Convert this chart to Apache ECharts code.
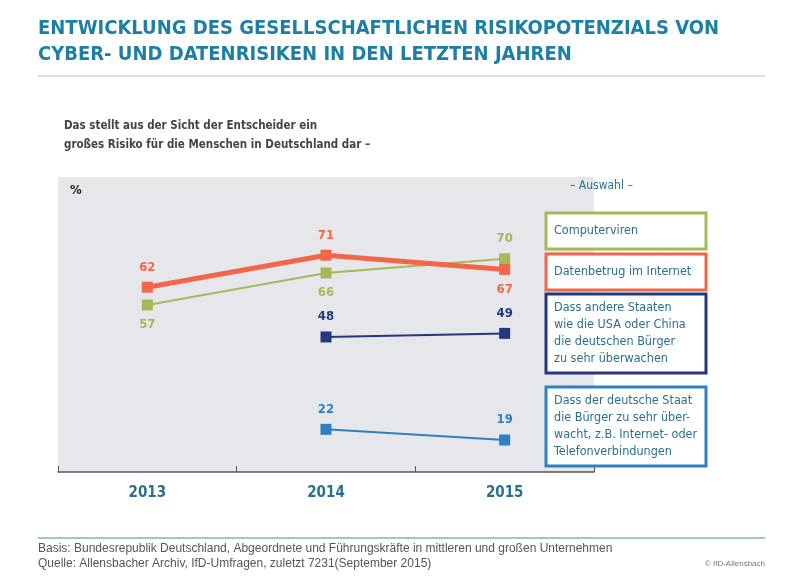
<!DOCTYPE html><html><head><meta charset="utf-8"><script src="https://cdn.jsdelivr.net/npm/echarts@6/dist/echarts.min.js"></script>
<style>body{margin:0}#c{width:800px;height:581px}</style></head><body><div id="c"></div><script>
const years=['2013','2014','2015'];
const computerviren=[57,66,70];
const datenbetrug=[62,71,67];
const andereStaaten=[null,48,49];
const deutscherStaat=[null,22,19];
const legendNames=['Computerviren','Datenbetrug im Internet','Dass andere Staaten\nwie die USA oder China\ndie deutschen Bürger\nzu sehr überwachen','Dass der deutsche Staat\ndie Bürger zu sehr über-\nwacht, z.B. Internet- oder\nTelefonverbindungen'];
const colors=['#a5b95b','#f2674a','#24397d','#2e80c2'];
const F='DejaVu Sans Condensed, Liberation Sans, sans-serif';
const ch=echarts.init(document.getElementById('c'));
function lbl(pos,col){return {show:true,position:pos,color:col,fontFamily:F,fontWeight:'bold',fontSize:13,distance:8};}
function ser(name,data,col,w,pos){return {name,type:'line',data:data.map((v,i)=>({value:v,label:lbl(pos[i],col)})),symbol:'rect',symbolSize:11,lineStyle:{color:col,width:w},itemStyle:{color:col},z:3};}
const boxes=[[546,213,160,36],[546,254,160,36],[546,294,160,79],[546,387,160,79]];
const g=[];
boxes.forEach((b,i)=>{g.push({type:'rect',shape:{x:b[0],y:b[1],width:b[2],height:b[3]},style:{fill:'#fff',stroke:colors[i],lineWidth:3},z:10});
g.push({type:'text',x:b[0]+8,y:b[1]+b[3]/2,style:{text:legendNames[i],fill:'#2b6f8e',font:'12.5px '+F,lineHeight:17,verticalAlign:'middle'},z:11});});
g.push({type:'text',x:570,y:186,style:{text:'– Auswahl –',fill:'#2b6f8e',font:'12px '+F,verticalAlign:'middle'}});
g.push({type:'text',x:70,y:191,style:{text:'%',fill:'#222',font:'bold 13px '+F,verticalAlign:'middle'}});
g.push({type:'text',x:38,y:42,style:{text:'ENTWICKLUNG DES GESELLSCHAFTLICHEN RISIKOPOTENZIALS VON\nCYBER- UND DATENRISIKEN IN DEN LETZTEN JAHREN',fill:'#1d7fa3',font:'bold 20px '+F,lineHeight:26,verticalAlign:'middle'}});
g.push({type:'line',shape:{x1:38,y1:76,x2:765,y2:76},style:{stroke:'#bbb',lineWidth:1}});
g.push({type:'text',x:64,y:136,style:{text:'Das stellt aus der Sicht der Entscheider ein\ngroßes Risiko für die Menschen in Deutschland dar –',fill:'#444',font:'bold 11.5px '+F,lineHeight:19,verticalAlign:'middle'}});
g.push({type:'line',shape:{x1:38,y1:538,x2:765,y2:538},style:{stroke:'#3a8aa8',lineWidth:1}});
g.push({type:'text',x:38,y:556,style:{text:'Basis: Bundesrepublik Deutschland, Abgeordnete und Führungskräfte in mittleren und großen Unternehmen\nQuelle: Allensbacher Archiv, IfD-Umfragen, zuletzt 7231(September 2015)',fill:'#555',font:'12px Liberation Sans, sans-serif',lineHeight:15,verticalAlign:'middle'}});
g.push({type:'text',x:765,y:564,style:{text:'© IfD-Allensbach',fill:'#777',font:'8px Liberation Sans, sans-serif',align:'right',verticalAlign:'middle'}});
ch.setOption({animation:false,
grid:{left:58,right:206,top:177,bottom:109,show:true,backgroundColor:'#e6e7ea',borderWidth:0},
xAxis:{type:'category',data:years,boundaryGap:true,axisLine:{lineStyle:{color:'#555',width:1.5}},axisTick:{show:true,length:-6,lineStyle:{color:'#555'}},axisLabel:{color:'#2b6f8e',fontFamily:F,fontWeight:'bold',fontSize:15,margin:14}},
yAxis:{type:'value',min:10,max:93,show:false,splitLine:{show:false}},
series:[ser('Computerviren',computerviren,colors[0],2,['bottom','bottom','top']),
ser('Datenbetrug',datenbetrug,colors[1],5,['top','top','bottom']),
ser('Andere',andereStaaten,colors[2],2,['top','top','top']),
ser('Deutscher',deutscherStaat,colors[3],2,['top','top','top'])],
graphic:g});
</script></body></html>
